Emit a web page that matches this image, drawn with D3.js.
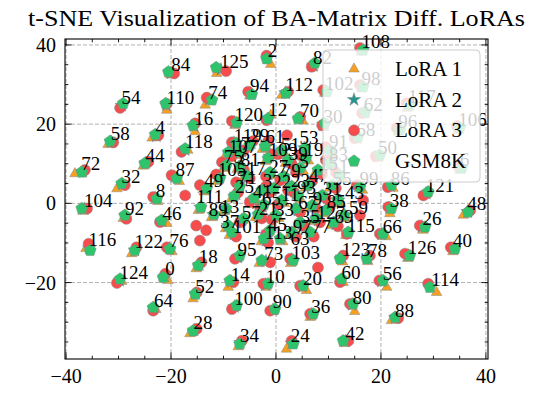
<!DOCTYPE html>
<html>
<head>
<meta charset="utf-8">
<script src="https://cdn.jsdelivr.net/npm/d3@7"></script>
<style>
body { margin: 0; background: #fff; }
svg text { font-family: "Liberation Serif", "Times New Roman", serif; }
</style>
</head>
<body>
<svg id="graphique" width="549" height="395"></svg>
<script>

// t-SNE coordinates per LoRA index (array position = index 0..127)
var gsmPts = [
[-21.5,-18.7],[12.2,7.1],[-1.8,36.5],[-2.7,3.3],[-23.0,17.4],[4.6,8.9],[35.4,8.9],[-6.9,12.9],[-22.7,1.2],[6.9,-0.5],
[-1.5,-20.3],[1.1,0.8],[-1.5,21.4],[-9.5,-1.3],[-8.8,-19.5],[8.0,8.4],[-15.8,19.7],[-5.7,7.1],[-14.8,-15.7],[5.7,11.4],
[5.2,-20.8],[-3.4,-2.8],[-0.4,3.8],[3.0,4.3],[3.3,-35.5],[-8.0,1.8],[28.4,-6.0],[-1.1,7.8],[-15.8,-32.2],[-5.0,14.7],
[9.3,20.2],[8.8,2.0],[-29.4,5.0],[0.0,-3.0],[-6.9,-35.5],[4.6,-4.8],[7.1,-27.9],[-9.1,-5.6],[22.0,-1.3],[2.3,10.9],
[34.1,-11.5],[-4.2,1.3],[12.8,-34.7],[11.8,0.8],[-25.0,10.1],[-1.1,-6.8],[-21.8,-4.3],[6.1,4.6],[36.6,-2.2],[-13.2,3.7],
[19.8,12.2],[1.1,13.4],[-15.4,-22.9],[5.5,13.9],[-29.1,25.2],[10.7,4.6],[20.4,-19.5],[-6.1,-3.8],[-31.6,15.7],[13.0,-3.0],
[12.5,-19.1],[-2.1,14.4],[17.0,23.1],[0.8,-8.9],[-23.4,-26.3],[-2.3,-0.3],[20.4,-7.7],[3.8,-1.3],[15.6,16.8],[11.0,-4.8],
[4.2,21.4],[-6.9,4.3],[-37.0,7.9],[-2.7,-14.4],[-12.2,26.1],[-9.5,9.6],[-20.2,-11.5],[6.5,-7.3],[17.3,-14.0],[1.5,6.8],
[14.7,-25.4],[-6.9,9.4],[7.4,35.4],[10.3,10.1],[-20.5,33.2],[9.5,-1.8],[22.0,4.6],[-18.9,6.3],[22.7,-28.8],[-11.8,-2.8],
[-0.2,-26.7],[10.3,13.4],[-28.8,-3.0],[4.2,1.8],[-4.6,27.5],[-6.9,-13.2],[23.6,18.5],[3.0,-7.3],[16.6,29.4],[16.0,4.1],
[-7.5,-25.8],[-8.4,-7.3],[9.7,28.2],[3.3,-14.4],[-37.0,-1.3],[-10.7,6.3],[35.0,19.0],[-9.1,12.9],[16.6,38.7],[-1.5,11.4],
[-21.0,25.2],[-14.3,-1.0],[1.9,27.8],[-2.3,-8.9],[29.3,-21.2],[13.8,-7.3],[-35.4,-11.9],[25.5,24.8],[-17.3,13.8],[-7.6,15.2],
[-7.5,20.4],[29.0,2.9],[-26.9,-11.9],[12.2,-14.0],[-29.7,-19.1],[-11.4,34.3],[25.5,-13.2],[7.6,-3.8]
];

var lora3Pts = [
[-21.1,-17.8],[11.4,7.8],[-1.8,37.3],[-1.9,4.3],[-22.4,17.2],[3.8,7.8],[34.7,9.4],[-6.1,13.4],[-23.4,1.6],[7.6,-1.3],
[-2.4,-20.3],[0.4,-0.3],[-1.8,21.0],[-13.3,-6.8],[-8.1,-19.9],[8.8,7.3],[-15.4,20.2],[-5.0,6.3],[-14.2,-14.9],[4.6,12.2],
[4.6,-20.8],[-2.7,-3.8],[-1.1,2.8],[2.3,3.3],[3.0,-34.7],[-7.2,2.8],[27.4,-5.6],[-1.9,6.8],[-15.1,-31.7],[-4.4,15.7],
[8.8,19.7],[9.5,1.3],[-28.8,4.6],[-0.8,-4.1],[-6.5,-34.7],[5.3,-5.8],[6.5,-27.9],[-14.5,-9.4],[21.4,-0.9],[3.0,9.9],
[33.3,-11.1],[-5.0,0.3],[13.8,-34.7],[16.6,0.8],[-24.3,10.5],[-1.9,-7.8],[-22.1,-4.7],[6.9,5.6],[37.0,-1.8],[-14.5,4.6],
[19.0,11.9],[0.4,12.4],[-15.1,-22.5],[2.1,17.2],[-29.7,24.1],[11.4,3.8],[19.7,-19.5],[-6.9,-4.8],[-31.0,15.4],[16.0,-3.0],
[12.2,-19.9],[-1.5,15.7],[16.4,22.8],[8.0,-16.2],[-23.4,-27.1],[-3.0,-1.3],[19.8,-7.7],[4.6,-2.3],[15.0,16.5],[11.8,-5.8],
[4.6,21.8],[-7.6,5.3],[-36.4,8.4],[-1.1,-14.9],[-13.2,26.7],[-10.3,10.4],[-20.8,-11.1],[7.2,-8.4],[17.9,-13.2],[0.8,5.8],
[14.1,-25.4],[-6.1,8.4],[6.8,34.5],[9.5,10.9],[-19.4,32.8],[10.3,-0.8],[21.3,4.1],[-19.9,7.1],[23.3,-29.0],[-15.2,-5.6],
[-1.1,-27.1],[9.5,14.2],[-28.5,-3.9],[3.4,2.8],[-5.3,28.2],[-7.8,-14.0],[23.0,19.0],[3.8,-8.4],[16.0,29.9],[15.4,4.6],
[-8.4,-26.7],[-7.6,-8.4],[9.0,28.6],[2.7,-14.0],[-36.0,-1.3],[-11.4,7.3],[34.5,19.5],[-8.4,11.9],[16.0,39.2],[-0.8,12.4],
[-20.8,25.1],[-17.3,2.0],[2.3,28.2],[-1.5,-9.9],[29.0,-20.3],[13.5,-7.7],[-35.7,-10.2],[24.9,25.3],[-18.0,13.0],[-8.4,15.4],
[-8.4,20.8],[28.1,2.0],[-26.6,-11.1],[12.8,-13.2],[-30.3,-20.1],[-9.5,33.4],[24.6,-12.7],[8.4,-4.8]
];

var lora1Pts = [
[-20.6,-19.5],[12.6,6.3],[-1.0,35.1],[-3.2,2.6],[-23.6,16.5],[5.2,8.1],[35.0,8.4],[-7.4,12.1],[-22.5,0.5],[6.4,-1.2],
[-1.9,-21.2],[1.6,0.0],[-1.0,22.3],[-10.0,-2.1],[-9.1,-21.2],[7.5,7.7],[-15.4,18.1],[-6.2,6.4],[-15.2,-16.5],[6.2,10.7],
[5.8,-22.0],[-3.9,-3.6],[-0.6,3.2],[3.5,3.6],[2.0,-36.8],[-8.5,1.1],[28.0,-6.8],[-0.6,7.0],[-16.4,-32.9],[-5.5,13.9],
[9.1,19.2],[8.3,1.3],[-30.3,3.7],[0.5,-3.8],[-7.2,-36.2],[4.1,-5.5],[6.5,-28.8],[-9.6,-6.4],[21.7,-2.6],[1.8,10.1],
[33.7,-12.2],[-3.7,0.5],[13.1,-35.4],[12.3,0.0],[-25.3,9.4],[-1.6,-7.6],[-20.8,-5.1],[5.6,3.9],[35.7,-3.0],[-13.7,2.9],
[19.4,11.4],[1.6,12.6],[-15.8,-24.1],[5.0,13.1],[-29.5,24.6],[10.2,3.8],[21.1,-21.2],[-6.6,-4.6],[-32.0,14.9],[13.5,-3.8],
[12.8,-20.0],[-2.6,13.6],[16.8,22.4],[1.3,-9.7],[-22.9,-26.8],[-2.8,-1.1],[21.0,-8.4],[4.3,-2.1],[15.3,16.0],[10.5,-5.6],
[5.1,20.8],[-7.4,3.5],[-38.3,7.5],[-3.2,-15.2],[-13.5,24.8],[-10.0,8.8],[-19.8,-12.2],[7.0,-8.1],[17.5,-14.7],[1.0,6.0],
[15.0,-27.3],[-7.4,8.6],[7.0,34.2],[10.8,9.3],[-20.0,32.4],[9.0,-2.6],[22.3,3.8],[-18.4,5.5],[22.0,-29.6],[-12.3,-3.6],
[-0.6,-27.3],[10.8,12.6],[-29.1,-3.8],[4.7,1.0],[-5.0,27.1],[-7.4,-14.0],[23.3,18.0],[2.5,-8.1],[16.3,29.0],[16.5,3.3],
[-8.0,-26.3],[-8.9,-8.1],[9.3,27.8],[2.8,-15.2],[-36.8,-2.0],[-11.2,5.5],[34.7,18.5],[-9.6,12.1],[16.3,38.2],[-2.0,10.6],
[-20.8,23.5],[-14.8,-1.8],[1.1,27.3],[-2.8,-9.7],[30.6,-22.5],[13.3,-8.1],[-36.2,-11.4],[25.0,24.0],[-16.8,13.4],[-8.1,14.4],
[-7.8,19.7],[28.5,2.1],[-27.5,-12.7],[12.7,-14.8],[-29.4,-19.7],[-11.3,32.8],[25.1,-13.9],[7.1,-4.6]
];

var lora2Pts = [
[-21.2,-18.4],[11.8,7.4],[-1.6,36.8],[-2.3,3.8],[-22.8,17.0],[4.2,8.4],[35.1,9.0],[-6.5,13.1],[-23.0,1.3],[7.2,-0.9],
[-2.0,-20.5],[0.8,0.3],[-1.6,21.3],[-9.6,-1.4],[-8.5,-19.8],[8.4,7.9],[-15.6,19.5],[-5.4,6.7],[-14.6,-15.5],[5.2,11.8],
[5.0,-21.0],[-3.0,-3.3],[-0.8,3.4],[2.7,3.8],[3.0,-35.3],[-7.6,2.3],[27.8,-5.9],[-1.5,7.3],[-15.6,-32.0],[-4.7,15.2],
[9.0,19.9],[9.1,1.6],[-29.2,4.8],[-0.4,-3.5],[-6.8,-35.2],[4.9,-5.3],[6.8,-28.0],[-9.2,-5.7],[21.6,-1.2],[2.6,10.4],
[33.8,-11.4],[-4.6,0.8],[13.2,-34.8],[11.9,0.8],[-24.8,10.2],[-1.5,-7.3],[-21.7,-4.5],[6.5,5.1],[36.5,-2.1],[-13.3,3.8],
[19.5,12.0],[0.8,12.9],[-15.3,-22.8],[5.4,14.0],[-29.4,24.7],[11.0,4.2],[20.1,-19.7],[-6.5,-4.3],[-31.4,15.5],[13.1,-3.0],
[12.4,-19.4],[-1.8,15.0],[16.7,22.9],[0.9,-9.0],[-23.3,-26.6],[-2.6,-0.8],[20.1,-7.8],[4.2,-1.8],[15.3,16.6],[11.4,-5.3],
[4.5,21.5],[-7.2,4.8],[-36.8,8.0],[-1.9,-14.6],[-12.7,26.2],[-9.9,10.0],[-20.3,-11.4],[6.8,-7.8],[17.5,-13.8],[1.1,6.3],
[14.5,-25.6],[-6.5,8.9],[7.1,34.9],[9.9,10.5],[-20.0,32.9],[9.9,-1.3],[21.8,4.4],[-19.3,6.7],[22.7,-28.9],[-11.9,-2.9],
[-0.6,-26.9],[9.9,13.8],[-28.7,-3.3],[3.8,2.3],[-4.9,27.7],[-7.3,-13.6],[23.3,18.6],[3.4,-7.8],[16.3,29.5],[15.7,4.3],
[-7.9,-26.1],[-8.0,-7.8],[9.4,28.3],[3.0,-14.2],[-36.5,-1.4],[-11.0,6.8],[34.8,19.1],[-8.8,12.4],[16.3,38.8],[-1.2,11.9],
[-20.9,24.8],[-14.4,-1.0],[1.8,27.9],[-1.9,-9.4],[29.4,-21.0],[13.6,-7.5],[-35.6,-11.3],[25.2,25.0],[-17.3,13.5],[-8.0,15.3],
[-7.9,20.4],[28.6,2.5],[-26.9,-11.8],[12.5,-13.6],[-29.8,-19.5],[-10.5,33.8],[25.2,-13.2],[8.0,-4.3]
];

var seriesNames = ["LoRA 1", "LoRA 2", "LoRA 3", "GSM8K"];
var xTicks = [-40, -20, 0, 20, 40];
var yTicks = [-20, 0, 20, 40];
var titre = "t-SNE Visualization of BA-Matrix Diff. LoRAs";

var graphique = d3.select("#graphique");
var MARGINS = {top: 39, right: 61, bottom: 36, left: 65};
var WIDTH = 549, HEIGHT = 395;

var xScale = d3.scaleLinear().domain([-40.2, 40.4]).range([MARGINS.left, WIDTH - MARGINS.right]);
var yScale = d3.scaleLinear().domain([-39.3, 41.5]).range([HEIGHT - MARGINS.bottom, MARGINS.top]);

function pentagon(r){
	var p = [];
	for (var k = 0; k < 5; k++){
		var a = -Math.PI/2 + k*2*Math.PI/5;
		p.push([r*Math.cos(a), r*Math.sin(a)]);
	}
	return "M" + p.join("L") + "Z";
}

var markers = [
	{pts: lora1Pts, d: d3.symbol(d3.symbolTriangle, 48)(), color: "#f5a020"},
	{pts: lora2Pts, d: d3.symbol(d3.symbolStar, 55)(), color: "#23968f"},
	{pts: lora3Pts, d: d3.symbol(d3.symbolCircle, 96)(), color: "#f64c4c"},
	{pts: gsmPts, d: pentagon(6.3), color: "#2ec46c"}
];

// grille
graphique.append("g").selectAll("line").data(xTicks).enter().append("line")
	.attr("x1", function(d){ return xScale(d); }).attr("x2", function(d){ return xScale(d); })
	.attr("y1", yScale.range()[0]).attr("y2", yScale.range()[1])
	.attr("stroke", "#a8a8a8").attr("stroke-width", 0.9).attr("stroke-dasharray", "4,2");
graphique.append("g").selectAll("line").data(yTicks).enter().append("line")
	.attr("y1", function(d){ return yScale(d); }).attr("y2", function(d){ return yScale(d); })
	.attr("x1", xScale.range()[0]).attr("x2", xScale.range()[1])
	.attr("stroke", "#a8a8a8").attr("stroke-width", 0.9).attr("stroke-dasharray", "4,2");

// points
markers.forEach(function(m){
	graphique.append("g").selectAll("path").data(m.pts).enter().append("path")
		.attr("d", m.d)
		.attr("transform", function(d){ return "translate(" + xScale(d[0]) + "," + yScale(d[1]) + ")"; })
		.attr("fill", m.color)
		.attr("stroke", "#888")
		.attr("stroke-width", 0.5);
});

// etiquettes (index of each LoRA, at the mean of its four points)
var labels = gsmPts.map(function(g, i){
	return {
		id: i,
		x: d3.mean([g[0], lora3Pts[i][0], lora1Pts[i][0], lora2Pts[i][0]]),
		y: d3.mean([g[1], lora3Pts[i][1], lora1Pts[i][1], lora2Pts[i][1]])
	};
});
graphique.append("g").selectAll("text").data(labels).enter().append("text")
	.attr("x", function(d){ return xScale(d.x); })
	.attr("y", function(d){ return yScale(d.y) - 2; })
	.attr("font-size", 19)
	.attr("fill", "#000")
	.text(function(d){ return d.id; });

// legende
var leg = graphique.append("g");
leg.append("rect")
	.attr("x", 323).attr("y", 50).attr("width", 157).attr("height", 132)
	.attr("rx", 4).attr("fill", "#fff").attr("fill-opacity", 0.8)
	.attr("stroke", "#cccccc").attr("stroke-width", 1);
seriesNames.forEach(function(name, i){
	var yy = 69 + i*30.7;
	leg.append("path").attr("d", markers[i].d)
		.attr("transform", "translate(354," + yy + ")")
		.attr("fill", markers[i].color).attr("stroke", "#888").attr("stroke-width", 0.5);
	leg.append("text").attr("x", 395).attr("y", yy + 7)
		.attr("font-size", 21).attr("fill", "#000").text(name);
});

// axes / cadre
var x0 = xScale.range()[0], x1 = xScale.range()[1], y0 = yScale.range()[0], y1 = yScale.range()[1];
graphique.append("rect").attr("x", x0).attr("y", y1).attr("width", x1 - x0).attr("height", y0 - y1)
	.attr("fill", "none").attr("stroke", "#000").attr("stroke-width", 1.1);

var xMinor = d3.range(-40, 41, 5), yMinor = d3.range(-35, 41, 5);
var ticks = graphique.append("g").attr("stroke", "#000").attr("stroke-width", 0.9);
xMinor.forEach(function(v){
	var len = xTicks.indexOf(v) >= 0 ? 6.5 : 3.3;
	ticks.append("line").attr("x1", xScale(v)).attr("x2", xScale(v)).attr("y1", y0).attr("y2", y0 - len);
	ticks.append("line").attr("x1", xScale(v)).attr("x2", xScale(v)).attr("y1", y1).attr("y2", y1 + len);
});
yMinor.forEach(function(v){
	var len = yTicks.indexOf(v) >= 0 ? 6.5 : 3.3;
	ticks.append("line").attr("y1", yScale(v)).attr("y2", yScale(v)).attr("x1", x0).attr("x2", x0 + len);
	ticks.append("line").attr("y1", yScale(v)).attr("y2", yScale(v)).attr("x1", x1).attr("x2", x1 - len);
});

function fmt(v){ return v < 0 ? "\u2212" + Math.abs(v) : String(v); }

graphique.append("g").selectAll("text").data(xTicks).enter().append("text")
	.attr("x", function(d){ return xScale(d); }).attr("y", 383)
	.attr("text-anchor", "middle").attr("font-size", 20).text(fmt);
graphique.append("g").selectAll("text").data(yTicks).enter().append("text")
	.attr("x", 56).attr("y", function(d){ return yScale(d) + 7; })
	.attr("text-anchor", "end").attr("font-size", 20).text(fmt);

// titre
graphique.append("text").attr("x", (x0 + x1)/2).attr("y", 26)
	.attr("text-anchor", "middle").attr("font-size", 23)
	.attr("textLength", 497).attr("lengthAdjust", "spacingAndGlyphs")
	.text(titre);

</script>
</body>
</html>
